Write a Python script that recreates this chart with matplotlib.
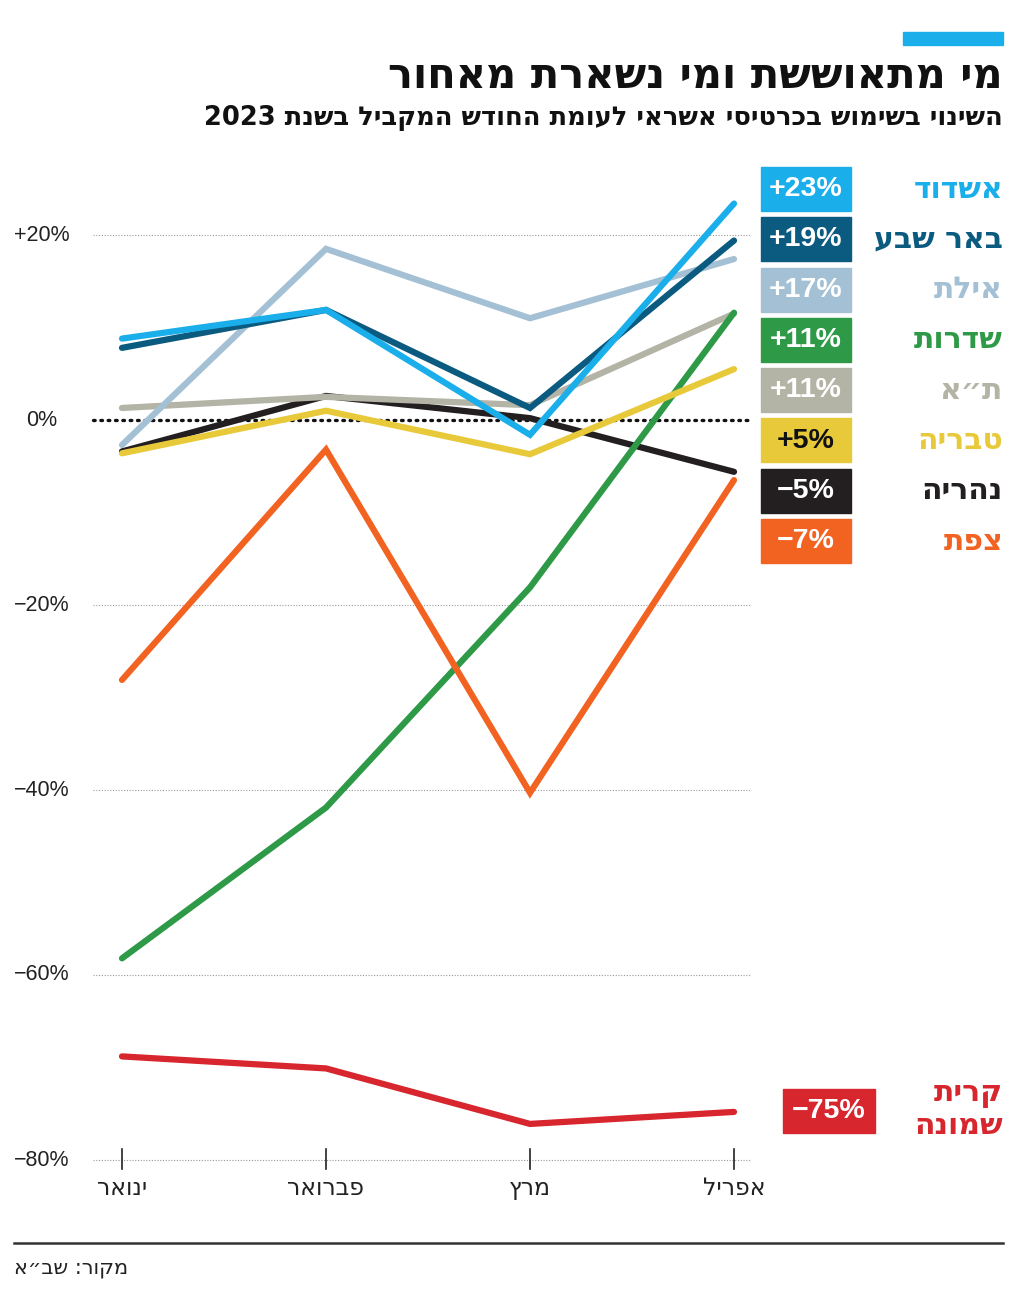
import re
import matplotlib
matplotlib.use("Agg")
import matplotlib.pyplot as plt

# ---- data ----
months = ["ינואר", "פברואר", "מרץ", "אפריל"]
cities = ["אשדוד", "באר שבע", "אילת", "שדרות", "ת״א", "טבריה", "נהריה", "צפת", "קרית שמונה"]
ashdod = [8.8, 11.9, -1.6, 23.4]
beer_sheva = [7.8, 11.9, 1.3, 19.4]
eilat = [-2.7, 18.5, 11.0, 17.4]
sderot = [-58.2, -41.9, -18.1, 11.6]
tel_aviv = [1.3, 2.5, 1.6, 11.5]
tiberias = [-3.6, 1.0, -3.7, 5.5]
nahariya = [-3.4, 2.6, 0.2, -5.6]
safed = [-28.1, -3.2, -40.3, -6.5]
kiryat_shmona = [-68.8, -70.1, -76.1, -74.8]
final_labels = ["+23%", "+19%", "+17%", "+11%", "+11%", "+5%", "\u22125%", "\u22127%", "\u221275%"]
yticks = [20, 0, -20, -40, -60, -80]

colors = ["#1aaeea", "#0b5a80", "#a4c0d4", "#2e9a47", "#b3b3a6",
          "#e8c93a", "#231f20", "#f26322", "#d7262e"]
series = [ashdod, beer_sheva, eilat, sderot, tel_aviv, tiberias, nahariya, safed, kiryat_shmona]

W, H = 1024, 1291
HEB = ["DejaVu Sans"]
NUM = ["Liberation Sans", "DejaVu Sans"]


def vis(s):
    """logical RTL string -> visual order for matplotlib"""
    r = s[::-1]
    return re.sub(r"[0-9A-Za-z.%+]+", lambda m: m.group(0)[::-1], r)


def fx(x):
    return x / W


def fy(y):
    return 1 - y / H


fig = plt.figure(figsize=(W / 100, H / 100), dpi=100)

# plot area in pixels
ax_l, ax_r, ax_t, ax_b = 80, 760, 150, 1180
ax = fig.add_axes([fx(ax_l), fy(ax_b), (ax_r - ax_l) / W, (ax_b - ax_t) / H])
x_jan, x_step = 122, 204.0
y_zero, y_per = 420, 9.25
ax.set_xlim((ax_l - x_jan) / x_step, (ax_r - x_jan) / x_step)
ax.set_ylim((y_zero - ax_b) / y_per, (y_zero - ax_t) / y_per)
ax.axis("off")

gx0 = (93 - x_jan) / x_step
gx1 = (750 - x_jan) / x_step
for v in yticks:
    if v == 0:
        ax.plot([gx0, gx1], [0, 0], color="#111111", lw=2.4, ls=(0, (0.5, 1.7)),
                dash_capstyle="round", zorder=1)
    else:
        ax.plot([gx0, gx1], [v, v], color="#999999", lw=0.8, ls=(0, (1, 1.5)), zorder=1)
    lbl = ("+%d%%" % v) if v > 0 else ("%d%%" % v).replace("-", "\u2212")
    ax.text((42 - x_jan) / x_step, v, lbl, ha="center", va="center",
            fontsize=15.5, family=NUM, color="#222222")

xs = list(range(len(months)))
for i in xs:
    ax.plot([i, i], [-78.8, -81.0], color="#222222", lw=1.2, zorder=1)
    ax.text(i, -83.0, vis(months[i]), ha="center", va="center",
            fontsize=17, family=HEB, color="#222222")

# drawing order, bottom to top
order = [8, 6, 4, 3, 5, 7, 2, 1, 0]
for z, i in enumerate(order):
    ax.plot(xs, series[i], color=colors[i], lw=4.5, solid_capstyle="round",
            solid_joinstyle="miter", zorder=2 + z)

# legend boxes
box_top = 167
for i in range(8):
    yc = box_top + 22 + i * 50.3
    fig.patches.append(plt.Rectangle((fx(761), fy(yc + 22)), 90 / W, 44 / H,
                                     transform=fig.transFigure, color=colors[i]))
    tc = "#111111" if i == 5 else "white"
    fig.text(fx(806), fy(yc), final_labels[i], ha="center", va="center",
             fontsize=20.5, fontweight="bold", family=NUM, color=tc)
    fig.text(fx(1003), fy(yc), vis(cities[i]), ha="right", va="center",
             fontsize=21.5, fontweight="bold", family=HEB, color=colors[i])

# kiryat shmona
yc = 1111
fig.patches.append(plt.Rectangle((fx(783), fy(yc + 22)), 92 / W, 44 / H,
                                 transform=fig.transFigure, color=colors[8]))
fig.text(fx(829), fy(yc), final_labels[8], ha="center", va="center",
         fontsize=20.5, fontweight="bold", family=NUM, color="white")
w1, w2 = cities[8].split(" ")
fig.text(fx(1003), fy(1094), vis(w1), ha="right", va="center",
         fontsize=21.5, fontweight="bold", family=HEB, color=colors[8])
fig.text(fx(1003), fy(1126), vis(w2), ha="right", va="center",
         fontsize=21.5, fontweight="bold", family=HEB, color=colors[8])

# header
fig.patches.append(plt.Rectangle((fx(903), fy(45)), 100 / W, 13 / H,
                                 transform=fig.transFigure, color="#1aaeea"))
fig.text(fx(1003), fy(76), vis("מי מתאוששת ומי נשארת מאחור"), ha="right", va="center",
         fontsize=30, fontweight="bold", family=HEB, color="#111111")
fig.text(fx(1003), fy(118), vis("השינוי בשימוש בכרטיסי אשראי לעומת החודש המקביל בשנת 2023"),
         ha="right", va="center", fontsize=18.5, fontweight="bold", family=HEB, color="#111111")

# footer
fig.add_artist(plt.Line2D([fx(14), fx(1003)], [fy(1243), fy(1243)], color="#333333", lw=1.8))
fig.text(fx(14), fy(1268), vis("מקור: שב״א"), ha="left", va="center",
         fontsize=15, family=HEB, color="#222222")

fig.savefig("out.png", dpi=100, facecolor="white")
